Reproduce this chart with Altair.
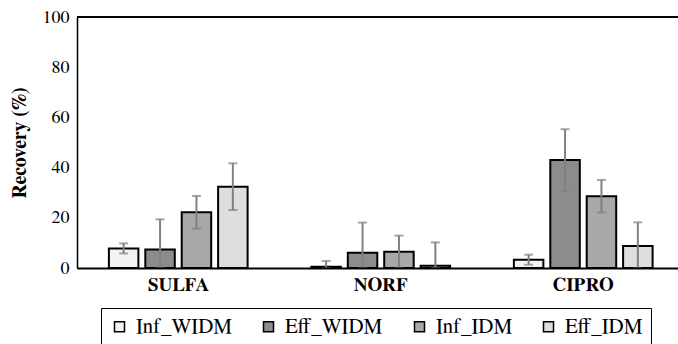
import altair as alt
import pandas as pd

categories = ["SULFA", "NORF", "CIPRO"]
series = ["Inf_WIDM", "Eff_WIDM", "Inf_IDM", "Eff_IDM"]

inf_widm = [7.8, 0.5, 3.3]
inf_widm_err = [2.0, 2.3, 2.0]
eff_widm = [7.4, 6.1, 43.0]
eff_widm_err = [12.0, 12.0, 12.3]
inf_idm = [22.2, 6.5, 28.6]
inf_idm_err = [6.5, 6.4, 6.5]
eff_idm = [32.4, 0.9, 8.8]
eff_idm_err = [9.3, 9.3, 9.4]

fills = ["#f3f3f3", "#8c8c8c", "#a8a8a8", "#dedede"]

rows = []
for s, vals, errs in [
    ("Inf_WIDM", inf_widm, inf_widm_err),
    ("Eff_WIDM", eff_widm, eff_widm_err),
    ("Inf_IDM", inf_idm, inf_idm_err),
    ("Eff_IDM", eff_idm, eff_idm_err),
]:
    for c, v, e in zip(categories, vals, errs):
        rows.append({"drug": c, "series": s, "value": v,
                     "lo": max(v - e, 0.0), "hi": v + e})
df = pd.DataFrame(rows)

FONT = "FreeSerif, 'Noto Serif CJK SC'"
W, H = 601, 251

x_enc = alt.X("drug:N", sort=categories,
              scale=alt.Scale(range=[0, 607.5], paddingInner=0.315, paddingOuter=0.1575),
              axis=alt.Axis(title=None, labelFont=FONT, labelFontSize=19,
                            labelFontWeight="bold", labelColor="black",
                            labelAngle=0, ticks=False, labelPadding=7,
                            domainColor="black", domainWidth=2, zindex=1))
xo = alt.XOffset("series:N", sort=series,
                 scale=alt.Scale(paddingInner=0.19, paddingOuter=0))

base = alt.Chart(df)

bars = base.mark_bar(stroke="black", strokeWidth=2).encode(
    x=x_enc,
    xOffset=xo,
    y=alt.Y("value:Q",
            scale=alt.Scale(domain=[0, 100], nice=False),
            axis=alt.Axis(title="Recovery (%)", values=[0, 20, 40, 60, 80, 100],
                          grid=False, ticks=False, labelFont=FONT, labelFontSize=18,
                          labelColor="black", labelPadding=8,
                          titleFont=FONT, titleFontSize=20, titleFontWeight="bold",
                          titleColor="black", titlePadding=13,
                          domainColor="black", domainWidth=1.5, zindex=1)),
    fill=alt.Fill("series:N", sort=series,
                  scale=alt.Scale(domain=series, range=fills),
                  legend=alt.Legend(title=None, orient="none", legendX=24, legendY=291,
                                    direction="horizontal", columns=4,
                                    symbolType="square", symbolSize=100,
                                    symbolStrokeColor="black", symbolStrokeWidth=1.5,
                                    labelFont=FONT, labelFontSize=21, labelColor="black",
                                    labelOffset=6, columnPadding=26,
                                    strokeColor="black", padding=8)),
)

err = base.mark_rule(color="#808080", strokeWidth=2).encode(
    x=alt.X("drug:N", sort=categories),
    xOffset=xo,
    y="lo:Q",
    y2="hi:Q",
)

cap_hi = base.mark_tick(color="#808080", thickness=2, size=9, orient="horizontal").encode(
    x=alt.X("drug:N", sort=categories),
    xOffset=xo,
    y="hi:Q",
)
cap_lo = base.mark_tick(color="#808080", thickness=2, size=9, orient="horizontal").encode(
    x=alt.X("drug:N", sort=categories),
    xOffset=xo,
    y="lo:Q",
)

top = alt.Chart(pd.DataFrame({"a": [0]})).mark_rule(color="black", strokeWidth=2).encode(
    x=alt.value(0), x2=alt.value(W), y=alt.value(0)
)

chart = alt.layer(bars, err, cap_hi, cap_lo, top).properties(
    width=W, height=H,
    autosize=alt.AutoSizeParams(type="none"),
    padding={"left": 77, "top": 17, "right": 0, "bottom": 76},
).configure_view(stroke=None).configure(background="white", font=FONT)

chart.save("out.html", embed_options={"renderer": "svg", "actions": False})
